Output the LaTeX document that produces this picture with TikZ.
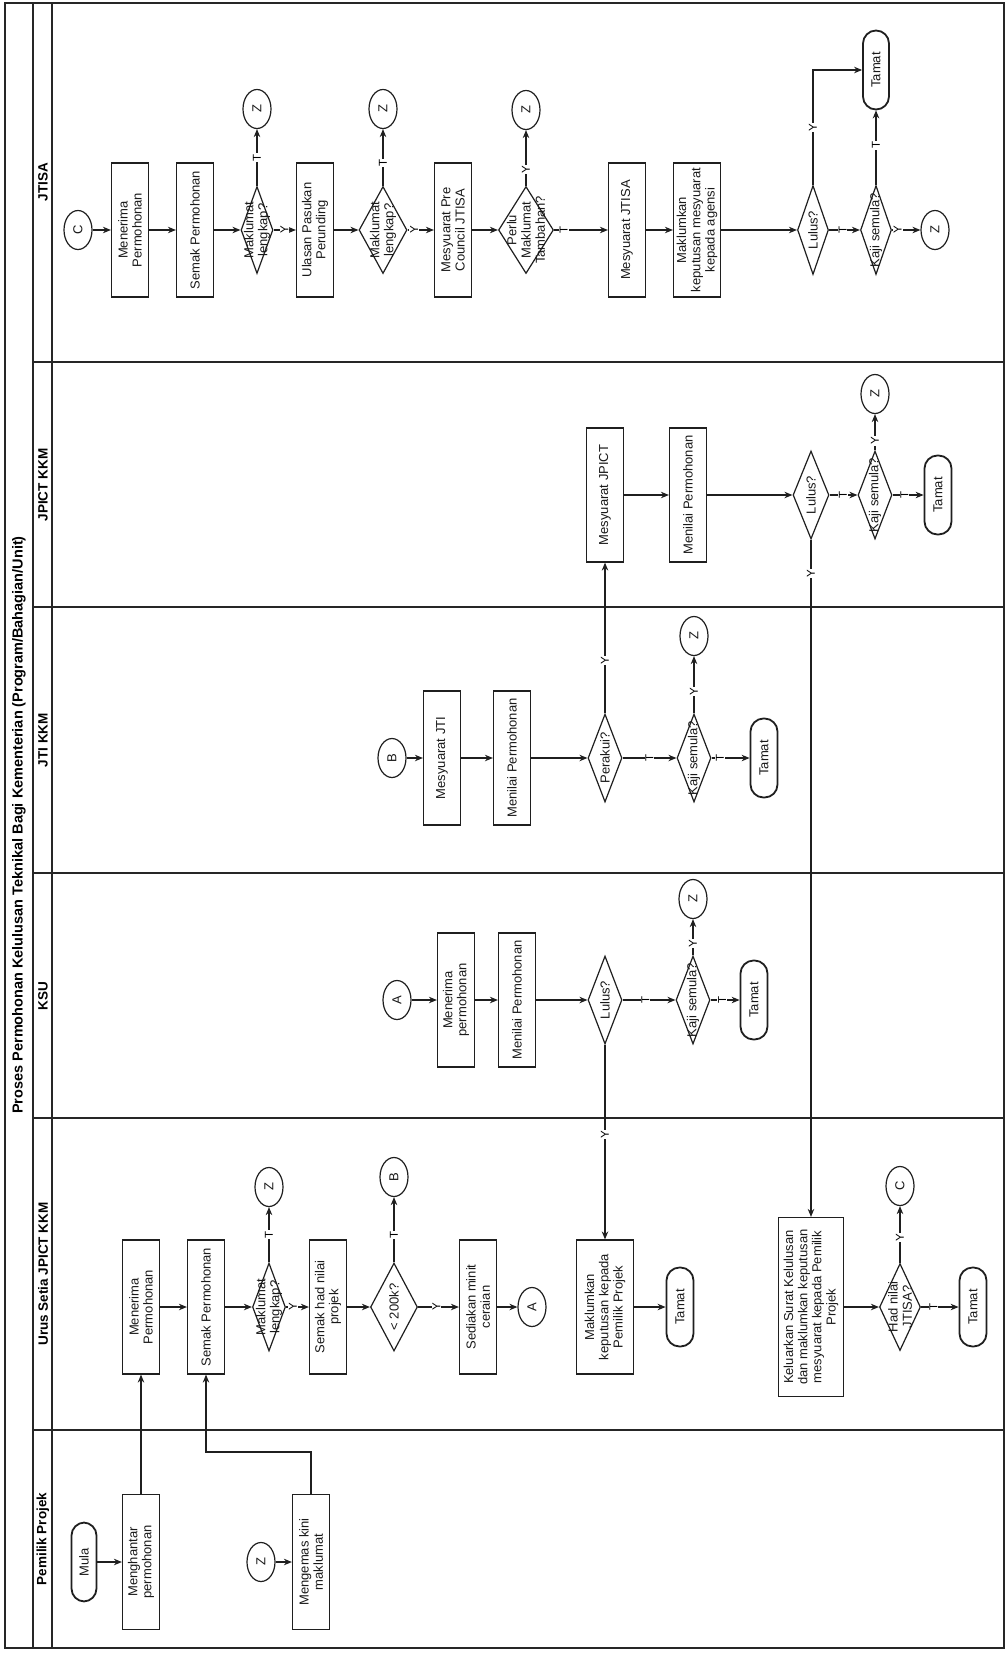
\documentclass[tikz,border=0pt]{standalone}
\usepackage{fontspec}
\setmainfont{Liberation Sans}
\usetikzlibrary{shapes.geometric,arrows.meta}
\begin{document}
\begin{tikzpicture}[x=1pt,y=-1pt,
  txt/.style={font=\fontsize{13}{14.2}\selectfont, text=black!90},
  box/.style={txt, draw=black!88, line width=1.2pt, rectangle, rotate=90, minimum width=134, minimum height=37, align=center, inner sep=1pt},
  dia/.style={draw=black!88, line width=1.2pt, diamond, rotate=90, minimum width=88, minimum height=33, inner sep=0pt},
  dtext/.style={txt, rotate=90, align=center, inner sep=0pt},
  conn/.style={txt, draw=black!88, line width=1.2pt, ellipse, rotate=90, minimum width=39, minimum height=28, inner sep=0pt},
  term/.style={txt, draw=black!88, line width=1.8pt, rectangle, rounded corners=13pt, rotate=90, minimum width=79, minimum height=27, inner sep=0pt},
  arr/.style={draw=black!88, line width=1.2pt, -{Stealth[length=8pt,width=6.5pt]}},
  lbl/.style={fill=white, inner sep=0.8pt, rotate=90, font=\fontsize{11.5}{11.5}\selectfont},
  hdr/.style={rotate=90, font=\bfseries\fontsize{13.5}{15}\selectfont},
  ttl/.style={rotate=90, font=\bfseries\fontsize{14.5}{16}\selectfont},
  frame/.style={draw=black!85, line width=1.3pt}
]
\fill[white] (0,0) rectangle (1008,1657);
\useasboundingbox (0,0) rectangle (1008,1657);
% frame
\draw[frame] (5,3) rectangle (1004,1648);
\draw[frame] (33,3) -- (33,1648);
\draw[frame] (52,3) -- (52,1648);
\foreach \yy in {362,607,873,1118,1430} \draw[frame] (33,\yy) -- (1004,\yy);
% titles
\node[ttl] (title) at (19,825) {Proses Permohonan Kelulusan Teknikal Bagi Kementerian (Program/Bahagian/Unit)};
\node[hdr] (hJTISA) at (43,182) {JTISA};
\node[hdr] (hJPICT) at (43,485) {JPICT KKM};
\node[hdr] (hJTI) at (43,740) {JTI KKM};
\node[hdr] (hKSU) at (43,996) {KSU};
\node[hdr] (hUrus) at (43,1274) {Urus Setia JPICT KKM};
\node[hdr] (hPem) at (43,1539) {Pemilik Projek};

% ---------- Pemilik Projek
\node[term, minimum height=25] (pMula) at (84,1562) {Mula};
\node[box, minimum width=135] (pHantar) at (141,1562) {Menghantar\\permohonan};
\node[conn] (pZ) at (261,1562) {Z};
\node[box, minimum width=135] (pKemas) at (311,1562) {Mengemas kini\\maklumat};

% ---------- Urus Setia
\node[box] (uMenerima) at (141,1307) {Menerima\\Permohonan};
\node[box] (uSemak) at (206,1307) {Semak Permohonan};
\node[dia, minimum height=33] (uDia1) at (269,1307) {};
\node[dtext] (uDia1t) at (uDia1) {Maklumat\\lengkap?};
\node[conn] (uZ) at (269,1187) {Z};
\node[box] (uHad) at (328,1307) {Semak had nilai\\projek};
\node[dia, minimum height=47] (uDia2) at (394,1307) {};
\node[dtext] (uDia2t) at (uDia2) {< 200k?};
\node[conn] (uB) at (394,1177) {B};
\node[box] (uSedia) at (478,1307) {Sediakan minit\\ceraian};
\node[conn] (uA) at (532,1307) {A};
\node[box, minimum height=57] (uMaklum) at (605,1307) {Maklumkan\\keputusan kepada\\Pemilik Projek};
\node[term] (uTamat1) at (680,1307) {Tamat};
\node[box, minimum height=65, minimum width=179] (uKeluar) at (811,1307) {Keluarkan Surat Kelulusan\\dan maklumkan keputusan\\mesyuarat kepada Pemilik\\Projek};
\node[dia, minimum height=41, minimum width=87] (uDia3) at (900,1307) {};
\node[dtext] (uDia3t) at (uDia3) {Had nilai\\JTISA?};
\node[conn] (uC) at (900,1186) {C};
\node[term] (uTamat2) at (973,1307) {Tamat};

% ---------- KSU
\node[conn] (kA) at (397,1000) {A};
\node[box] (kMenerima) at (456,1000) {Menerima\\permohonan};
\node[box] (kMenilai) at (517,1000) {Menilai Permohonan};
\node[dia, minimum height=34] (kLulus) at (605,1000) {};
\node[dtext] (kLulust) at (kLulus) {Lulus?};
\node[dia, minimum height=34] (kKaji) at (693,1000) {};
\node[dtext] (kKajit) at (kKaji) {Kaji semula?};
\node[conn] (kZ) at (693,899) {Z};
\node[term] (kTamat) at (754,1000) {Tamat};

% ---------- JTI KKM
\node[conn] (tB) at (392,758) {B};
\node[box] (tMesy) at (442,758) {Mesyuarat JTI};
\node[box] (tMenilai) at (512,758) {Menilai Permohonan};
\node[dia, minimum height=34] (tPerakui) at (605,758) {};
\node[dtext] (tPerakuit) at (tPerakui) {Perakui?};
\node[dia, minimum height=34] (tKaji) at (694,758) {};
\node[dtext] (tKajit) at (tKaji) {Kaji semula?};
\node[conn] (tZ) at (694,636) {Z};
\node[term] (tTamat) at (764,758) {Tamat};

% ---------- JPICT KKM
\node[box] (jpMesy) at (605,495) {Mesyuarat JPICT};
\node[box] (jpMenilai) at (688,495) {Menilai Permohonan};
\node[dia, minimum height=36] (jpLulus) at (811,495) {};
\node[dtext] (jpLulust) at (jpLulus) {Lulus?};
\node[dia, minimum height=34] (jpKaji) at (875,495) {};
\node[dtext] (jpKajit) at (jpKaji) {Kaji semula?};
\node[conn] (jpZ) at (875,394) {Z};
\node[term] (jpTamat) at (938,495) {Tamat};

% ---------- JTISA
\node[conn] (sC) at (78,230) {C};
\node[box] (sMenerima) at (130,230) {Menerima\\Permohonan};
\node[box] (sSemak) at (195,230) {Semak Permohonan};
\node[dia, minimum height=32, minimum width=87] (sDia1) at (257,230) {};
\node[dtext] (sDia1t) at (sDia1) {Maklumat\\lengkap?};
\node[conn] (sZ1) at (257,109) {Z};
\node[box] (sUlasan) at (315,230) {Ulasan Pasukan\\Perunding};
\node[dia, minimum height=48, minimum width=87] (sDia2) at (383,230) {};
\node[dtext] (sDia2t) at (sDia2) {Maklumat\\lengkap?};
\node[conn] (sZ2) at (383,109) {Z};
\node[box] (sPre) at (453,230) {Mesyuarat Pre\\Council JTISA};
\node[dia, minimum height=55, minimum width=87] (sPerlu) at (526,230) {};
\node[dtext] (sPerlut) at (sPerlu) {Perlu\\Maklumat\\Tambahan?};
\node[conn] (sZ3) at (526,110) {Z};
\node[box] (sMesy) at (627,230) {Mesyuarat JTISA};
\node[box, minimum height=47] (sMaklum) at (697,230) {Maklumkan\\keputusan mesyuarat\\kepada agensi};
\node[dia, minimum height=31, minimum width=89] (sLulus) at (813,230) {};
\node[dtext] (sLulust) at (sLulus) {Lulus?};
\node[dia, minimum height=31, minimum width=89] (sKaji) at (876,230) {};
\node[dtext] (sKajit) at (sKaji) {Kaji semula?};
\node[term, minimum height=26] (sTamat) at (876,70) {Tamat};
\node[conn] (sZ4) at (935,230) {Z};

% ---------- connectors: Pemilik
\draw[arr] (pMula) -- (pHantar);
\draw[arr] (pZ) -- (pKemas);
\draw[arr] (pHantar) -- (uMenerima);
\coordinate (pBend) at (206,1452);
\draw[arr] (pKemas) |- (pBend) -- (uSemak);

% Urus Setia
\draw[arr] (uMenerima) -- (uSemak);
\draw[arr] (uSemak) -- (uDia1);
\draw[arr] (uDia1) -- node[lbl,pos=0.3]{Y} (uHad);
\draw[arr] (uDia1) -- node[lbl]{T} (uZ);
\draw[arr] (uHad) -- (uDia2);
\draw[arr] (uDia2) -- node[lbl,pos=0.45]{Y} (uSedia);
\draw[arr] (uDia2) -- node[lbl,pos=0.42]{T} (uB);
\draw[arr] (uSedia) -- (uA);
\draw[arr] (uMaklum) -- (uTamat1);
\draw[arr] (uKeluar) -- (uDia3);
\draw[arr] (uDia3) -- node[lbl,pos=0.33]{T} (uTamat2);
\draw[arr] (uDia3) -- node[lbl,pos=0.45]{Y} (uC);

% cross-lane
\draw[arr] (kLulus) -- node[lbl,pos=0.46]{Y} (uMaklum);
\draw[arr] (tPerakui) -- node[lbl,pos=0.35]{Y} (jpMesy);
\draw[arr] (jpLulus) -- node[lbl,pos=0.05]{Y} (uKeluar);

% KSU
\draw[arr] (kA) -- (kMenerima);
\draw[arr] (kMenerima) -- (kMenilai);
\draw[arr] (kMenilai) -- (kLulus);
\draw[arr] (kLulus) -- node[lbl,pos=0.43]{T} (kKaji);
\draw[arr] (kKaji) -- node[lbl,pos=0.4]{T} (kTamat);
\draw[arr] (kKaji) -- node[lbl,pos=0.32]{Y} (kZ);

% JTI
\draw[arr] (tB) -- (tMesy);
\draw[arr] (tMesy) -- (tMenilai);
\draw[arr] (tMenilai) -- (tPerakui);
\draw[arr] (tPerakui) -- node[lbl,pos=0.5]{T} (tKaji);
\draw[arr] (tKaji) -- node[lbl,pos=0.22]{T} (tTamat);
\draw[arr] (tKaji) -- node[lbl,pos=0.38]{Y} (tZ);

% JPICT
\draw[arr] (jpMesy) -- (jpMenilai);
\draw[arr] (jpMenilai) -- (jpLulus);
\draw[arr] (jpLulus) -- node[lbl,pos=0.48]{T} (jpKaji);
\draw[arr] (jpKaji) -- node[lbl,pos=0.38]{T} (jpTamat);
\draw[arr] (jpKaji) -- node[lbl,pos=0.26]{Y} (jpZ);

% JTISA
\draw[arr] (sC) -- (sMenerima);
\draw[arr] (sMenerima) -- (sSemak);
\draw[arr] (sSemak) -- (sDia1);
\draw[arr] (sDia1) -- node[lbl,pos=0.48]{Y} (sUlasan);
\draw[arr] (sDia1) -- node[lbl]{T} (sZ1);
\draw[arr] (sUlasan) -- (sDia2);
\draw[arr] (sDia2) -- node[lbl,pos=0.25]{Y} (sPre);
\draw[arr] (sDia2) -- node[lbl,pos=0.4]{T} (sZ2);
\draw[arr] (sPre) -- (sPerlu);
\draw[arr] (sPerlu) -- node[lbl,pos=0.18]{T} (sMesy);
\draw[arr] (sPerlu) -- node[lbl,pos=0.29]{Y} (sZ3);
\draw[arr] (sMesy) -- (sMaklum);
\draw[arr] (sMaklum) -- (sLulus);
\draw[arr] (sLulus) -- node[lbl,pos=0.44]{T} (sKaji);
\draw[arr] (sKaji) -- node[lbl,pos=0.2]{Y} (sZ4);
\draw[arr] (sKaji) -- node[lbl,pos=0.53]{T} (sTamat);
\draw[arr] (sLulus) |- node[lbl,pos=0.25]{Y} (sTamat);
\end{tikzpicture}
\end{document}
